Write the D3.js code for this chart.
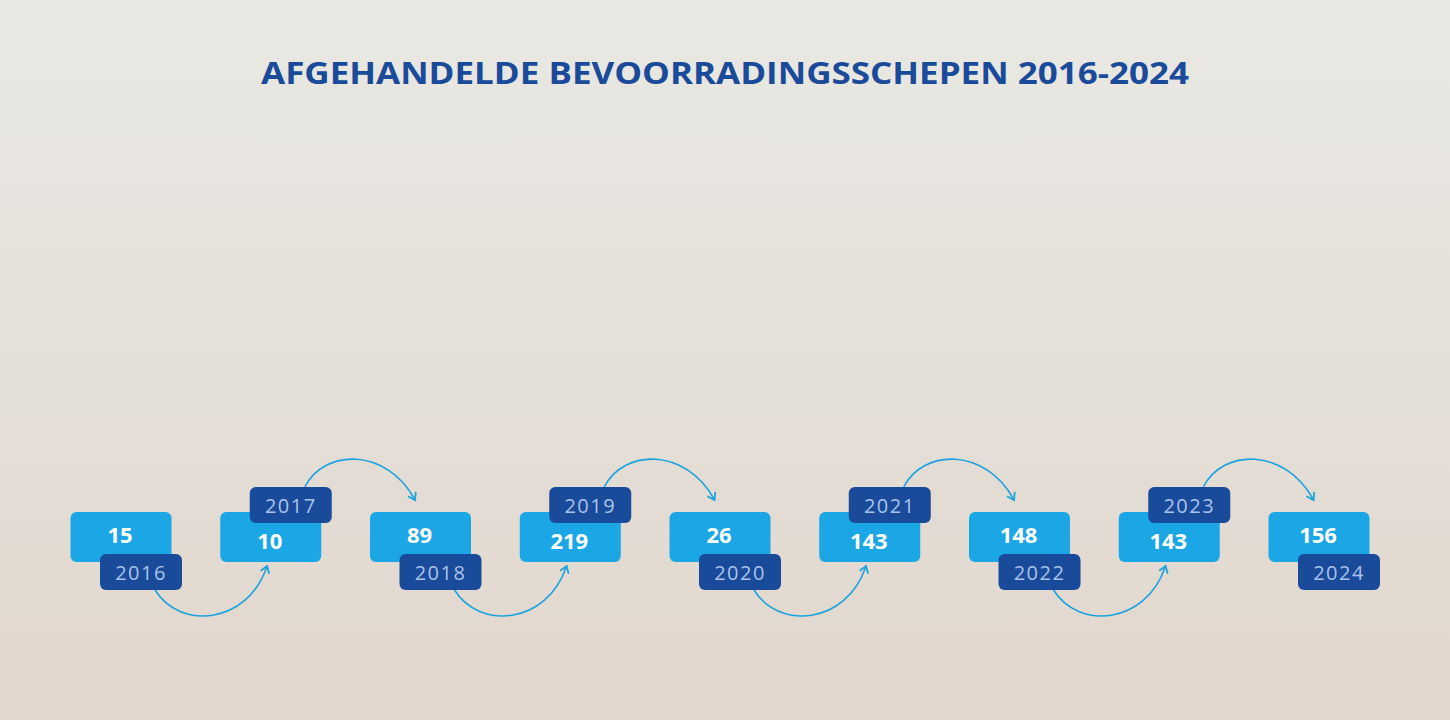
<!DOCTYPE html>
<html><head><meta charset="utf-8">
<script src="https://cdn.jsdelivr.net/npm/d3@7"></script>
<style>body{margin:0;overflow:hidden}</style>
</head><body>
<svg id="chart" width="1450" height="720"></svg>
<script>
// values per year
const years = ["2016","2017","2018","2019","2020","2021","2022","2023","2024"];
const ships = [15, 10, 89, 219, 26, 143, 148, 143, 156];
const title = "AFGEHANDELDE BEVOORRADINGSSCHEPEN 2016-2024";

const svg = d3.select("#chart");
const defs = svg.append("defs");

// washed-out photo stand-in
const bg = defs.append("linearGradient").attr("id", "bg").attr("x1", 0).attr("y1", 0).attr("x2", 0).attr("y2", 1);
bg.append("stop").attr("offset", "0").attr("stop-color", "#e9e8e2");
bg.append("stop").attr("offset", "0.45").attr("stop-color", "#e4e1da");
bg.append("stop").attr("offset", "1").attr("stop-color", "#e2d6cc");
svg.append("rect").attr("width", 1450).attr("height", 720).attr("fill", "url(#bg)");

defs.append("marker").attr("id", "arr").attr("viewBox", "0 0 10 10")
    .attr("refX", 6).attr("refY", 5).attr("markerWidth", 7).attr("markerHeight", 7)
    .attr("orient", "auto")
  .append("path").attr("d", "M1,1 L7,5 L1,9").attr("fill", "none")
    .attr("stroke", "#1ba3e0").attr("stroke-width", 1.6);

svg.append("text").attr("x", 725).attr("y", 84).attr("text-anchor", "middle")
    .attr("font-family", "Open Sans").attr("font-weight", 700).attr("font-size", 30)
    .attr("fill", "#1a4a9a").attr("textLength", 928).attr("lengthAdjust", "spacingAndGlyphs")
    .text(title);

const x = d3.scalePoint().domain(years).range([121, 1319]);
const boxW = 101, boxH = 50, boxY = 512;
const yrW = 82, yrH = 36;

// arrows between consecutive boxes
years.slice(0, -1).forEach((yr, i) => {
    const x0 = x(yr) + 34, x1 = x(years[i + 1]) - 4;
    let d;
    if (i % 2 === 0) {
        d = `M${x0},${590} C${x0 + 25},${630} ${x1 - 20},${625} ${x1},${567}`;
    } else {
        d = `M${x0},${487} C${x0 + 20},${448} ${x1 - 30},${448} ${x1 - 2},${499}`;
    }
    svg.append("path").attr("d", d).attr("fill", "none")
        .attr("stroke", "#1ba3e0").attr("stroke-width", 1.6).attr("marker-end", "url(#arr)");
});

const g = svg.selectAll("g.item").data(years).enter().append("g").attr("class", "item");
g.append("rect").attr("x", d => x(d) - boxW / 2).attr("y", boxY)
    .attr("width", boxW).attr("height", boxH).attr("rx", 6).attr("fill", "#1ba6e6");
g.append("text").attr("x", d => x(d) - 1)
    .attr("y", (d, i) => i % 2 === 0 ? 543 : 549)
    .attr("text-anchor", "middle").attr("font-family", "Open Sans").attr("font-weight", 700)
    .attr("font-size", 22).attr("fill", "#fff")
    .text((d, i) => ships[i]);
g.append("rect").attr("x", d => x(d) - 21)
    .attr("y", (d, i) => i % 2 === 0 ? 554 : 487)
    .attr("width", yrW).attr("height", yrH).attr("rx", 6).attr("fill", "#1a4a9a");
g.append("text").attr("x", d => x(d) + 20)
    .attr("y", (d, i) => i % 2 === 0 ? 580 : 513)
    .attr("text-anchor", "middle").attr("font-family", "Open Sans")
    .attr("font-size", 20).attr("letter-spacing", 1.5).attr("fill", "#a9c3ec")
    .text(d => d);
</script>
</body></html>
